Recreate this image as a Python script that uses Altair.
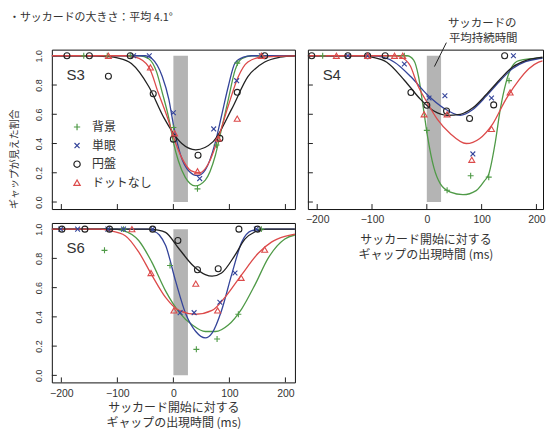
import altair as alt
import pandas as pd

SERIES = ["背景", "単眼", "円盤", "ドットなし"]
COLORS = ["#4f9a47", "#34449a", "#222222", "#dc4a4a"]
PLUS = "M-1,0L1,0M0,-1L0,1"
CROSS = "M-0.8,-0.8L0.8,0.8M-0.8,0.8L0.8,-0.8"
SHAPES = [PLUS, CROSS, "circle", "triangle-up"]

XTICKS = [-200, -100, 0, 100, 200]
YTICKS = [0.0, 0.2, 0.4, 0.6, 0.8, 1.0]
GAP_START = [0]
GAP_END = [26]
XTITLE = ["サッカード開始に対する", "ギャップの出現時間 (ms)"]
YTITLE = "ギャップが見えた割合"
TITLE = "・サッカードの大きさ：平均 4.1°"
NOTE = ["サッカードの", "平均持続時間"]

# ---------------- S3 ----------------
s3_bg_t = [-160, -118, -77, 0, 43, 77, 114, 157]
s3_bg_p = [1, 1, 1, 0.51, 0.09, 0.39, 0.95, 1]
s3_mono_t = [-71, -43, 0, 47, 72, 113, 157]
s3_mono_p = [1, 1, 0.61, 0.16, 0.50, 0.83, 1]
s3_disk_t = [-190, -150, -116, -77, -36, 0, 44, 83, 114, 163]
s3_disk_p = [1, 1, 0.86, 1, 0.74, 0.43, 0.32, 0.435, 0.75, 1]
s3_nodot_t = [-116, -41, 2, 43, 80, 114, 157]
s3_nodot_p = [1, 0.92, 0.47, 0.21, 0.435, 0.57, 1]

s3_bg_ct = [-217, -60, -44, -30, -20, -8, 0, 9, 21, 39, 57, 75, 86, 98, 110, 122, 140, 217]
s3_bg_cp = [1, 1, 0.98, 0.89, 0.75, 0.57, 0.41, 0.28, 0.17, 0.11, 0.15, 0.32, 0.50, 0.70, 0.90, 0.98, 1, 1]
s3_mono_ct = [-217, -50, -38, -20, -8, 0, 13, 28, 43, 57, 75, 86, 98, 110, 125, 140, 217]
s3_mono_cp = [1, 1, 0.98, 0.86, 0.70, 0.53, 0.32, 0.21, 0.18, 0.22, 0.41, 0.59, 0.79, 0.95, 0.99, 1, 1]
s3_disk_ct = [-217, -140, -120, -100, -75, -44, -16, 0, 15, 40, 71, 104, 133, 163, 190, 217]
s3_disk_cp = [1, 1, 0.995, 0.985, 0.947, 0.79, 0.57, 0.47, 0.40, 0.357, 0.413, 0.635, 0.857, 0.957, 0.99, 1]
s3_nodot_ct = [-217, -90, -68, -44, -27, -8, 0, 15, 32, 47, 62, 80, 98, 116, 133, 157, 217]
s3_nodot_cp = [1, 1, 0.99, 0.924, 0.747, 0.547, 0.447, 0.302, 0.213, 0.2, 0.258, 0.436, 0.658, 0.858, 0.957, 0.99, 1]

# ---------------- S4 ----------------
s4_bg_t = [-190, -41, 0, 37, 80, 113, 150]
s4_bg_p = [1, 1, 0.49, 0.08, 0.18, 0.17, 0.83]
s4_mono_t = [-144, -108, -41, 4, 33, 84, 118, 158]
s4_mono_p = [1, 1, 0.944, 0.711, 0.727, 0.329, 0.711, 1]
s4_disk_t = [-210, -144, -108, -76, -29, 0, 36, 78, 122, 142]
s4_disk_p = [1, 1, 1, 1, 0.749, 0.662, 0.622, 0.571, 0.664, 1]
s4_nodot_t = [-165, -108, -59, -44, -5, 37, 82, 118, 152]
s4_nodot_p = [1, 1, 1, 1, 0.60, 0.60, 0.289, 0.50, 0.749]

s4_bg_ct = [-217, -36, -24, -15, -6, 1, 13, 25, 43, 66, 90, 105, 113, 125, 134, 144, 153, 168, 211]
s4_bg_cp = [1, 1, 0.97, 0.856, 0.633, 0.456, 0.233, 0.122, 0.067, 0.05, 0.078, 0.144, 0.19, 0.41, 0.633, 0.81, 0.91, 0.967, 0.985]
s4_mono_ct = [-217, -100, -80, -59, -29, 1, 30, 61, 84, 108, 132, 156, 180, 201, 211]
s4_mono_cp = [1, 1, 0.99, 0.956, 0.856, 0.733, 0.644, 0.593, 0.633, 0.722, 0.822, 0.911, 0.96, 0.978, 0.982]
s4_disk_ct = [-217, -118, -100, -73, -41, -11, 13, 37, 61, 84, 108, 132, 156, 180, 201, 211]
s4_disk_cp = [1, 1, 0.99, 0.956, 0.833, 0.70, 0.622, 0.593, 0.60, 0.644, 0.733, 0.833, 0.922, 0.967, 0.985, 0.99]
s4_nodot_ct = [-217, -60, -47, -30, -18, 1, 19, 43, 72, 96, 120, 144, 168, 186, 204, 211]
s4_nodot_cp = [1, 1, 0.99, 0.93, 0.811, 0.678, 0.567, 0.467, 0.40, 0.433, 0.533, 0.70, 0.833, 0.911, 0.956, 0.965]

# ---------------- S6 ----------------
s6_bg_t = [-123, -89, -6, 41, 78, 116, 157]
s6_bg_p = [0.855, 1, 0.751, 0.178, 0.249, 0.418, 1]
s6_mono_t = [-201, -171, -117, -89, -37, 12, 37, 83, 110, 148]
s6_mono_p = [1, 1, 1, 1, 1, 0.429, 0.429, 0.5, 0.7, 1]
s6_disk_t = [-199, -158, -114, -37, 8, 43, 80, 117, 150]
s6_disk_p = [1, 1, 1, 1, 0.922, 0.722, 0.729, 1, 1]
s6_nodot_t = [-74, -40, 1, 40, 79, 121, 163]
s6_nodot_p = [1, 0.70, 0.444, 0.627, 0.444, 0.667, 0.86]

s6_bg_ct = [-217, -110, -90, -62, -39, -14, 10, 34, 57, 75, 98, 122, 146, 169, 199, 217]
s6_bg_cp = [1, 1, 0.99, 0.922, 0.778, 0.578, 0.433, 0.344, 0.30, 0.30, 0.344, 0.455, 0.622, 0.80, 0.933, 0.96]
s6_mono_ct = [-217, -45, -38, -25, -14, 4, 22, 40, 57, 69, 86, 104, 122, 140, 160, 217]
s6_mono_cp = [1, 1, 0.99, 0.96, 0.889, 0.644, 0.422, 0.30, 0.256, 0.289, 0.444, 0.689, 0.911, 0.989, 1, 1]
s6_disk_ct = [-217, -40, -30, -14, 10, 34, 57, 69, 86, 110, 128, 146, 165, 217]
s6_disk_cp = [1, 1, 0.995, 0.978, 0.866, 0.755, 0.689, 0.678, 0.70, 0.822, 0.933, 0.982, 1, 1]
s6_nodot_ct = [-217, -130, -115, -86, -62, -39, -14, 10, 40, 69, 92, 122, 151, 175, 199, 217]
s6_nodot_cp = [1, 1, 0.99, 0.955, 0.844, 0.689, 0.533, 0.444, 0.418, 0.444, 0.533, 0.689, 0.833, 0.911, 0.95, 0.965]

JP = "Noto Sans CJK JP"
NUM = "Liberation Sans"
TXT = "#333333"
H = 160


def long_df(rows):
    out = []
    for s, ts, ps in rows:
        for t, p in zip(ts, ps):
            out.append({"series": s, "t": t, "p": p})
    return pd.DataFrame(out)


gap_df = pd.DataFrame({"t": GAP_START, "t2": GAP_END, "p": [0.0], "p2": [1.0]})
xt_df = pd.DataFrame({"t": XTICKS})
yt_df = pd.DataFrame({"p": YTICKS})
one_df = pd.DataFrame({"k": [0]})
leg_df = pd.DataFrame({"series": SERIES, "i": list(range(len(SERIES)))})

color = alt.Color("series:N", scale=alt.Scale(domain=SERIES, range=COLORS), legend=None)
shape = alt.Shape("series:N", scale=alt.Scale(domain=SERIES, range=SHAPES), legend=None)


def vtext(txt, x, y, size, font=JP, align="center", angle=0):
    return alt.Chart(one_df).mark_text(align=align, baseline="middle", fontSize=size, font=font,
                                       color=TXT, angle=angle).encode(
        x=alt.value(x), y=alt.value(y), text=alt.value(txt))


def legend_layers(X, Y):
    base = alt.Chart(leg_df).transform_calculate(t="-172", p="0.513 - 0.127 * datum.i")
    sym = base.mark_point(filled=False, size=40, strokeWidth=1.2, opacity=1).encode(
        x=X, y=Y, color=color, shape=shape)
    txt = base.mark_text(align="left", baseline="middle", dx=15, fontSize=12, font=JP,
                         color=TXT).encode(x=X, y=Y, text="series:N")
    return [sym, txt]


def panel(name, pts, crv, width, xdom, xlabels, ylabels, title_pad, extra=(), with_legend=False):
    xs = alt.Scale(domain=xdom, nice=False, zero=False)
    ys = alt.Scale(domain=[-0.048, 1.042], nice=False, zero=False)
    if xlabels:
        xaxis = alt.Axis(values=XTICKS, labelFontSize=10.5, labelPadding=6, ticks=False, tickSize=0,
                         domain=False, grid=False, labelFlush=False, title=XTITLE, titleFontSize=12,
                         titleLineHeight=15, titlePadding=title_pad, titleFont=JP,
                         titleFontWeight="normal", labelColor=TXT, titleColor=TXT, labelFont=NUM)
    else:
        xaxis = None
    if ylabels:
        yaxis = alt.Axis(values=YTICKS, format=".1f", labelAngle=270, labelAlign="center",
                         labelBaseline="bottom", labelPadding=8, labelFontSize=9, ticks=False,
                         tickSize=0, domain=False, grid=False, labelOverlap=False, title=None,
                         labelColor=TXT, labelFont=NUM, labelFlush=False)
    else:
        yaxis = None
    X = alt.X("t:Q", scale=xs, axis=xaxis)
    Y = alt.Y("p:Q", scale=ys, axis=yaxis)

    bar = alt.Chart(gap_df).mark_rect(color="#b4b4b4").encode(x=X, x2="t2", y=Y, y2="p2")
    xtk = alt.Chart(xt_df).mark_rule(color="#222", strokeWidth=1).encode(
        x=X, y=alt.value(H), y2=alt.value(H - 5))
    ytk = alt.Chart(yt_df).mark_rule(color="#222", strokeWidth=1).encode(
        y=Y, x=alt.value(0), x2=alt.value(5))
    lines = alt.Chart(crv).mark_line(interpolate="monotone", strokeWidth=1.3, clip=True).encode(
        x=X, y=Y, color=color)
    points = alt.Chart(pts).mark_point(filled=False, size=36, strokeWidth=1.1, opacity=1).encode(
        x=X, y=Y, color=color, shape=shape)
    label = vtext(name, 24, 25, 15, font=NUM)
    layers = [bar, xtk, ytk, lines, points, label] + list(extra)
    if with_legend:
        layers += legend_layers(X, Y)
    return alt.layer(*layers).properties(width=width, height=H)


s3_pts = long_df([(SERIES[0], s3_bg_t, s3_bg_p), (SERIES[1], s3_mono_t, s3_mono_p),
                  (SERIES[2], s3_disk_t, s3_disk_p), (SERIES[3], s3_nodot_t, s3_nodot_p)])
s3_crv = long_df([(SERIES[0], s3_bg_ct, s3_bg_cp), (SERIES[1], s3_mono_ct, s3_mono_cp),
                  (SERIES[2], s3_disk_ct, s3_disk_cp), (SERIES[3], s3_nodot_ct, s3_nodot_cp)])
s4_pts = long_df([(SERIES[0], s4_bg_t, s4_bg_p), (SERIES[1], s4_mono_t, s4_mono_p),
                  (SERIES[2], s4_disk_t, s4_disk_p), (SERIES[3], s4_nodot_t, s4_nodot_p)])
s4_crv = long_df([(SERIES[0], s4_bg_ct, s4_bg_cp), (SERIES[1], s4_mono_ct, s4_mono_cp),
                  (SERIES[2], s4_disk_ct, s4_disk_cp), (SERIES[3], s4_nodot_ct, s4_nodot_cp)])
s6_pts = long_df([(SERIES[0], s6_bg_t, s6_bg_p), (SERIES[1], s6_mono_t, s6_mono_p),
                  (SERIES[2], s6_disk_t, s6_disk_p), (SERIES[3], s6_nodot_t, s6_nodot_p)])
s6_crv = long_df([(SERIES[0], s6_bg_ct, s6_bg_cp), (SERIES[1], s6_mono_ct, s6_mono_cp),
                  (SERIES[2], s6_disk_ct, s6_disk_cp), (SERIES[3], s6_nodot_ct, s6_nodot_cp)])

title_txt = vtext(TITLE, -43, -31.5, 11, align="left")
ytitle_txt = vtext(YTITLE, -36.5, 110, 10, angle=270)

note1 = vtext(NOTE[0], 175, -26, 11.5)
note2 = vtext(NOTE[1], 176, -11, 11.5)
leader = alt.Chart(one_df).mark_rule(color="#222", strokeWidth=1).encode(
    x=alt.value(139), y=alt.value(-7), x2=alt.value(127), y2=alt.value(17))

s3 = panel("S3", s3_pts, s3_crv, 244, [-217, 217], False, True, 4,
           extra=[title_txt, ytitle_txt], with_legend=True)
s4 = panel("S4", s4_pts, s4_crv, 236, [-217, 212], True, False, 9,
           extra=[note1, note2, leader])
s6 = panel("S6", s6_pts, s6_crv, 244, [-217, 217], True, True, 4)

chart = alt.concat(s3, s4, s6, columns=2, spacing={"row": 14, "column": 13},
                   bounds="flush").properties(
    padding={"left": 0, "top": 3, "right": 0, "bottom": 0},
    background="white",
).configure_view(stroke="#111111", strokeWidth=1)

chart.save("out.html", embed_options={"renderer": "svg", "actions": False})
